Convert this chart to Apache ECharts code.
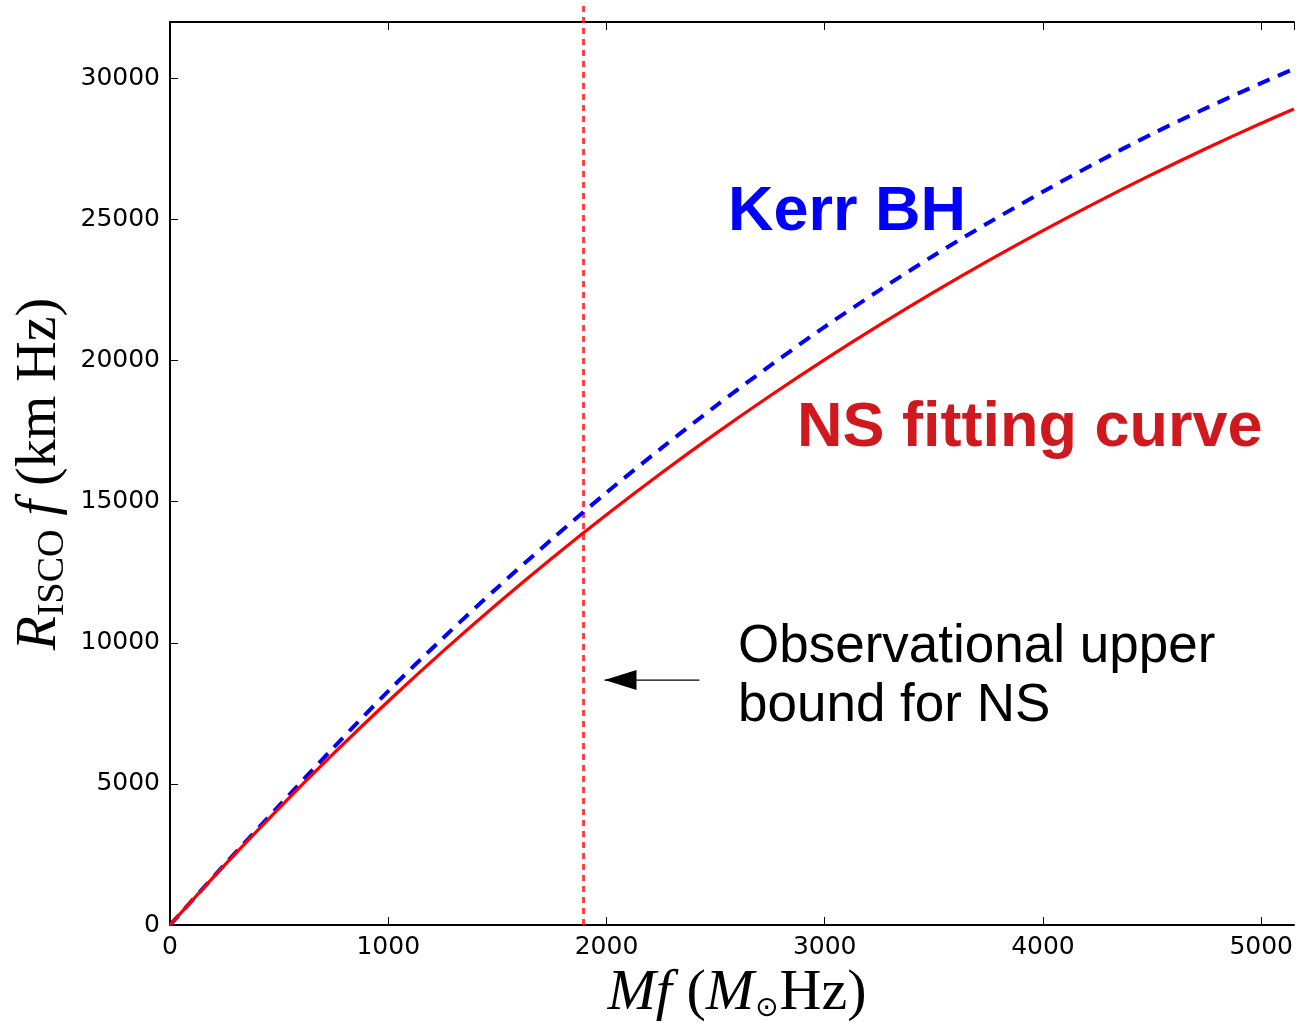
<!DOCTYPE html>
<html><head><meta charset="utf-8">
<script src="https://cdn.jsdelivr.net/npm/echarts@6/dist/echarts.min.js"></script>
<style>html,body{margin:0;padding:0;background:#fff}#c{width:1296px;height:1023px}</style>
</head><body><div id="c"></div>
<script>
// ---- data ----
const mfValues  = [0,250,500,750,1000,1250,1500,1750,2000,2250,2500,2750,3000,3250,3500,3750,4000,4250,4500,4750,5000,5150];
const nsFitting = [0,2120,4145,6080,7930,9697,11385,12997,14537,16008,17413,18754,20035,21258,22426,23542,24608,25626,26598,27526,28412,28920];
const kerrBH    = [0,2141,4228,6293,8287,10162,11954,13673,15322,16888,18388,19823,21197,22491,23727,24884,25986,27035,28034,28957,29833,30337];
const xTickValues = [0,1000,2000,3000,4000,5000];
const yTickValues = [0,5000,10000,15000,20000,25000,30000];
const obsUpperBound = 1895;          // vertical dotted line
const boundLineTop = 32600;
const arrowFrom = [2426, 8680];
const arrowTo   = [1991, 8680];

const zip = (xs, ys) => xs.map((x, i) => [x, ys[i]]);

const chart = echarts.init(document.getElementById('c'), null, {renderer: 'canvas'});
const tickFont = {fontFamily: 'DejaVu Sans', fontSize: 25, color: '#000'};
const axisLine = {show: true, lineStyle: {color: '#000', width: 2}};
const axisTick = {show: true, inside: true, length: 8, lineStyle: {color: '#000', width: 1}};

chart.setOption({
  animation: false,
  backgroundColor: '#fff',
  grid: {left: 170, top: 22, right: 0, bottom: 98, containLabel: false},
  xAxis: [{
    type: 'value', min: 0, max: 5150, interval: 1000, position: 'bottom',
    axisLine, axisTick, splitLine: {show: false},
    axisLabel: Object.assign({margin: 10, showMaxLabel: false,
      formatter: v => xTickValues.includes(v) ? String(v) : ''}, tickFont)
  }, {
    type: 'value', min: 0, max: 5150, interval: 1000, position: 'top',
    axisLine, axisTick, splitLine: {show: false}, axisLabel: {show: false}
  }],
  yAxis: [{
    type: 'value', min: 0, max: 32000, interval: 5000,
    axisLine, axisTick, splitLine: {show: false},
    axisLabel: Object.assign({margin: 10, showMaxLabel: false,
      formatter: v => yTickValues.includes(v) ? String(v) : ''}, tickFont)
  }],
  series: [
    {
      name: 'Kerr BH', type: 'line', data: zip(mfValues, kerrBH), smooth: 0.3,
      symbol: 'none', lineStyle: {color: '#0000ff', width: 4, type: [13, 9]}, z: 3
    },
    {
      name: 'NS fitting curve', type: 'line', data: zip(mfValues, nsFitting), smooth: 0.3,
      symbol: 'none', lineStyle: {color: '#ff0000', width: 3.2}, z: 4
    },
    {
      name: 'bound', type: 'line', data: [[obsUpperBound, 0], [obsUpperBound, boundLineTop]],
      clip: false, symbol: 'none', lineStyle: {color: 'rgba(255,30,30,0.85)', width: 3, type: [6, 5]}, z: 2
    },
    {
      name: 'arrow', type: 'line', data: [arrowFrom, arrowTo], symbol: 'none',
      lineStyle: {color: '#000', width: 1.2}, z: 5,
      markPoint: {
        symbol: 'triangle', symbolSize: [20, 32], symbolRotate: 90, symbolOffset: [16, 0],
        itemStyle: {color: '#000'}, label: {show: false},
        data: [{coord: arrowTo}]
      }
    }
  ],
  graphic: [
    {type: 'text', left: 728, top: 181, style: {text: 'Kerr BH', font: 'bold 63px "Liberation Sans"', fill: '#0000ff'}},
    {type: 'text', left: 797, top: 397, style: {text: 'NS fitting curve', font: 'bold 63px "Liberation Sans"', fill: '#d0181f'}},
    {type: 'text', left: 738, top: 621, style: {text: 'Observational upper', font: '53px "Liberation Sans"', fill: '#000'}},
    {type: 'text', left: 738, top: 680, style: {text: 'bound for NS', font: '53px "Liberation Sans"', fill: '#000'}},
    {
      type: 'text', x: 737, y: 994,
      style: {
        text: '{i|Mf}{n| (}{i|M}{s|⊙}{n|Hz)}', align: 'center', verticalAlign: 'middle',
        rich: {
          i: {fontFamily: 'Liberation Serif', fontStyle: 'italic', fontSize: 58, fill: '#000'},
          n: {fontFamily: 'Liberation Serif', fontSize: 58, fill: '#000'},
          s: {fontFamily: 'DejaVu Sans', fontSize: 28, fill: '#000', verticalAlign: 'bottom', padding: [26, 1, 0, 1]}
        }
      }
    },
    {
      type: 'text', x: 40, y: 474, rotation: Math.PI / 2,
      style: {
        text: '{i|R}{s|ISCO}{i| f}{n| (km Hz)}', align: 'center', verticalAlign: 'middle',
        rich: {
          i: {fontFamily: 'Liberation Serif', fontStyle: 'italic', fontSize: 56, fill: '#000'},
          n: {fontFamily: 'Liberation Serif', fontSize: 56, fill: '#000'},
          s: {fontFamily: 'Liberation Serif', fontSize: 38, fill: '#000', verticalAlign: 'bottom', padding: [26, 0, 0, 0]}
        }
      }
    }
  ]
});
</script>
</body></html>
